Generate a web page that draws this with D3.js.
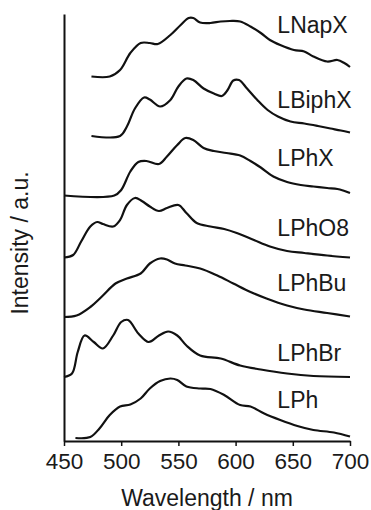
<!DOCTYPE html>
<html>
<head>
<meta charset="utf-8">
<script src="https://cdn.jsdelivr.net/npm/d3@7"></script>
<style>
  body { margin: 0; background: #fff; }
  text { font-family: "Liberation Sans", Arial, sans-serif; fill: #1a1a1a; }
</style>
</head>
<body>
<svg id="chart" width="371" height="510"></svg>
<script>
// spectra: [wavelength nm, intensity a.u.]
const lnapx = [[474, 0], [490, 0], [499, 0.13], [508, 0.47], [517, 0.67], [525, 0.67], [532, 0.65], [543, 0.83], [552, 1.03], [559, 1.17], [563, 1.17], [569, 1.08], [578, 1.07], [587, 1.10], [595, 1.11], [604, 1.10], [613, 1.0], [622, 0.87], [630, 0.73], [639, 0.63], [651, 0.53], [660, 0.50], [668, 0.40], [680, 0.30], [689, 0.33], [695, 0.27], [700, 0.19]]
const lbiphx = [[474, 0], [499, 0], [505, 0.19], [512, 0.55], [520, 0.77], [525, 0.73], [534, 0.59], [543, 0.72], [550, 0.99], [557, 1.15], [563, 1.12], [572, 0.95], [581, 0.85], [588, 0.80], [593, 0.92], [598, 1.11], [603, 1.12], [610, 0.95], [619, 0.72], [628, 0.52], [637, 0.39], [648, 0.29], [660, 0.25], [672, 0.20], [683, 0.15], [692, 0.11], [700, 0.07]]
const lphx = [[450, 0], [494, 0], [500, 0.11], [508, 0.48], [515, 0.67], [522, 0.69], [533, 0.63], [540, 0.78], [549, 1.01], [556, 1.15], [563, 1.11], [572, 0.95], [581, 0.89], [592, 0.85], [604, 0.80], [613, 0.69], [622, 0.56], [633, 0.38], [645, 0.27], [657, 0.21], [668, 0.18], [680, 0.15], [689, 0.13], [694, 0.10], [700, 0.05]]
const lpho8 = [[450, 0], [458, 0.05], [465, 0.32], [473, 0.62], [479, 0.71], [484, 0.67], [493, 0.62], [499, 0.75], [505, 1.05], [512, 1.19], [518, 1.13], [525, 1.02], [533, 0.93], [540, 0.99], [550, 1.05], [557, 0.89], [566, 0.69], [578, 0.62], [590, 0.57], [601, 0.49], [616, 0.35], [630, 0.22], [645, 0.13], [660, 0.09], [680, 0.04], [700, 0]]
const lphbu = [[450, 0], [461, 0.03], [473, 0.20], [484, 0.43], [495, 0.67], [505, 0.77], [517, 0.87], [525, 1.07], [534, 1.17], [540, 1.15], [547, 1.07], [556, 1.03], [569, 0.97], [584, 0.83], [598, 0.67], [613, 0.50], [627, 0.37], [645, 0.23], [660, 0.15], [680, 0.08], [700, 0.01]]
const lphbr = [[450, 0], [457, 0.07], [462, 0.50], [468, 0.83], [476, 0.70], [484, 0.57], [493, 0.83], [500, 1.10], [506, 1.14], [515, 0.87], [524, 0.70], [533, 0.83], [541, 0.91], [549, 0.83], [557, 0.63], [569, 0.43], [587, 0.37], [604, 0.23], [622, 0.15], [645, 0.07], [668, 0.02], [700, 0]]
const lph = [[460, 0], [473, 0.02], [481, 0.19], [490, 0.46], [499, 0.63], [508, 0.67], [517, 0.79], [525, 0.99], [534, 1.14], [543, 1.19], [549, 1.16], [557, 1.03], [569, 0.99], [578, 0.98], [590, 0.86], [604, 0.66], [613, 0.63], [625, 0.49], [639, 0.36], [654, 0.24], [668, 0.16], [686, 0.11], [700, 0.03]]

const names = ['LNapX', 'LBiphX', 'LPhX', 'LPhO8', 'LPhBu', 'LPhBr', 'LPh']
const spectra = [lnapx, lbiphx, lphx, lpho8, lphbu, lphbr, lph]
const offsets = [7.23, 6.04, 4.85, 3.61, 2.42, 1.22, 0]
const xTicks = [450, 500, 550, 600, 650, 700]

let svg = d3.select('#chart')
let x = d3.scaleLinear().domain([450, 700]).range([64, 350])
let y = d3.scaleLinear().domain([-0.06, 8.48]).range([441, 14])

// axes
let xAxis = d3.axisBottom(x).tickValues(xTicks).tickSizeInner(5).tickSizeOuter(0).tickPadding(7)
let gx = svg.append('g').attr('transform', 'translate(0,' + y(-0.06) + ')').call(xAxis)
gx.select('.domain').attr('stroke', '#111').attr('stroke-width', 2)
gx.selectAll('.tick line').attr('stroke', '#111').attr('stroke-width', 1.5)
gx.selectAll('.tick text').attr('font-size', '22.5px').attr('font-family', '"Liberation Sans", Arial, sans-serif').attr('fill', '#1a1a1a')

let yAxis = d3.axisLeft(y).tickValues([]).tickSizeOuter(0)
let gy = svg.append('g').attr('transform', 'translate(' + x(450) + ',0)').call(yAxis)
gy.select('.domain').attr('stroke', '#111').attr('stroke-width', 2)

// spectra
let line = d3.line()
  .x(function (d) { return x(d[0]) })
  .y(function (d) { return y(d[1]) })
  .curve(d3.curveCatmullRom.alpha(0.5))

svg.append('g').selectAll('path')
  .data(spectra)
  .enter()
  .append('path')
  .attr('d', function (d, i) { return line(d.map(function (p) { return [p[0], p[1] + offsets[i]] })) })
  .attr('fill', 'none')
  .attr('stroke', '#111')
  .attr('stroke-width', 2.2)
  .attr('stroke-linejoin', 'round')

// series labels, placed just above each curve's tail
const labelLift = [0.87, 0.56, 0.59, 0.44, 0.53, 0.33, 0.6]
svg.append('g').selectAll('text')
  .data(names)
  .enter()
  .append('text')
  .attr('x', x(636.5))
  .attr('y', function (d, i) { return y(offsets[i] + labelLift[i]) })
  .attr('font-size', '23px')
  .text(function (d) { return d })

// axis titles
svg.append('text')
  .attr('x', x(575))
  .attr('y', 506)
  .attr('text-anchor', 'middle')
  .attr('font-size', '23px')
  .text('Wavelength / nm')
svg.append('text')
  .attr('transform', 'translate(28,' + y(3.9) + ') rotate(-90)')
  .attr('text-anchor', 'middle')
  .attr('font-size', '23px')
  .text('Intensity / a.u.')
</script>
</body>
</html>
